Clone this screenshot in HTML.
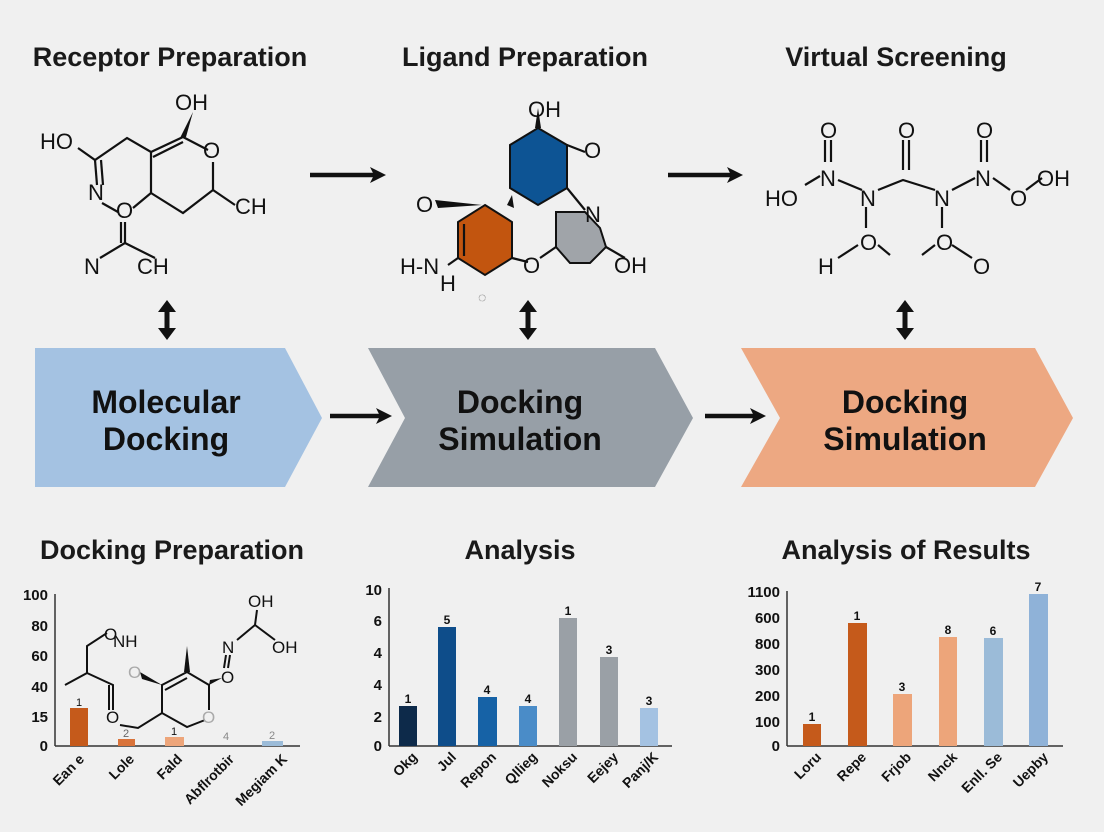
<!DOCTYPE html>
<html><head><meta charset="utf-8"><style>
html,body{margin:0;padding:0;background:#f0f0f0;}
svg{display:block;font-family:"Liberation Sans",sans-serif;}
</style></head><body>
<svg width="1104" height="832" viewBox="0 0 1104 832" xmlns="http://www.w3.org/2000/svg">
<defs>
<marker id="ah" markerWidth="16" markerHeight="16" refX="8" refY="8" orient="auto" markerUnits="userSpaceOnUse">
<path d="M0,0 L16,8 L0,16 L4,8 Z" fill="#111"/></marker>
</defs>
<rect width="1104" height="832" fill="#f0f0f0"/>
<!-- titles -->
<g font-size="27" font-weight="bold" fill="#1a1a1a" text-anchor="middle">
<text x="170" y="66">Receptor Preparation</text>
<text x="525" y="66">Ligand Preparation</text>
<text x="896" y="66">Virtual Screening</text>
<text x="172" y="559">Docking Preparation</text>
<text x="520" y="559">Analysis</text>
<text x="906" y="559">Analysis of Results</text>
</g>
<!-- chevrons -->
<polygon points="35,348 285,348 322,418 285,487 35,487" fill="#a4c2e2"/>
<polygon points="368,348 655,348 693,418 655,487 368,487 405,418" fill="#979fa7"/>
<polygon points="741,348 1035,348 1073,418 1035,487 741,487 780,418" fill="#eda882"/>
<g font-size="32" font-weight="bold" fill="#111" text-anchor="middle">
<text x="166" y="413">Molecular</text><text x="166" y="450">Docking</text>
<text x="520" y="413">Docking</text><text x="520" y="450">Simulation</text>
<text x="905" y="413">Docking</text><text x="905" y="450">Simulation</text>
</g>
<!-- arrows -->
<g stroke="#111" stroke-width="4.5" fill="none">
<line x1="310" y1="175" x2="378" y2="175" marker-end="url(#ah)"/>
<line x1="668" y1="175" x2="735" y2="175" marker-end="url(#ah)"/>
<line x1="330" y1="416" x2="384" y2="416" marker-end="url(#ah)"/>
<line x1="705" y1="416" x2="758" y2="416" marker-end="url(#ah)"/>
</g>
<g fill="#111">
<g transform="translate(167,0)"><rect x="-2.5" y="308" width="5" height="25"/><path d="M-9,312 L0,300 L9,312 Z M-9,328 L0,340 L9,328 Z"/></g>
<g transform="translate(528,0)"><rect x="-2.5" y="308" width="5" height="25"/><path d="M-9,312 L0,300 L9,312 Z M-9,328 L0,340 L9,328 Z"/></g>
<g transform="translate(905,0)"><rect x="-2.5" y="308" width="5" height="25"/><path d="M-9,312 L0,300 L9,312 Z M-9,328 L0,340 L9,328 Z"/></g>
</g>
<!-- molecule 1 -->
<g stroke="#111" stroke-width="2.2" fill="none">
<path d="M78,148 L95,160 L127,138 L151,152 L183,137 L208,150"/>
<path d="M153,157 L183,142"/>
<path d="M95,160 L97,185"/><path d="M101,160 L103,185"/>
<path d="M102,203 L118,212"/>
<path d="M151,152 L151,193 L133,208"/>
<path d="M151,193 L183,213 L213,190 L213,162"/>
<path d="M213,190 L235,205"/>
<path d="M125,222 L125,243 L100,258"/><path d="M121,222 L121,243"/>
<path d="M125,243 L155,258"/>
</g>
<path d="M180,138 L193,112 L186,137 Z" fill="#111"/>
<g font-size="22" fill="#111">
<text x="40" y="149">HO</text><text x="175" y="110">OH</text><text x="203" y="158">O</text>
<text x="235" y="214">CH</text><text x="88" y="200">N</text><text x="116" y="218">O</text>
<text x="84" y="274">N</text><text x="137" y="274">CH</text>
</g>
<!-- molecule 2 -->
<polygon points="538,128 567,145 567,188 538,205 510,188 510,145" fill="#0d5494" stroke="#111" stroke-width="2"/>
<polygon points="485,205 512,222 512,258 485,275 458,258 458,222" fill="#c2550f" stroke="#111" stroke-width="2"/>
<polygon points="556,212 585,212 600,228 606,247 590,263 570,263 556,247" fill="#a0a4a9" stroke="#111" stroke-width="2"/>
<g stroke="#111" stroke-width="2.2" fill="none">
<path d="M464,224 L464,256"/><path d="M567,145 L585,152"/>
<path d="M512,258 L528,262"/><path d="M540,258 L556,247"/><path d="M606,247 L625,258"/>
<path d="M458,258 L448,265"/><path d="M567,188 L585,210"/>
</g>
<path d="M535,128 L538,108 L541,128 Z" fill="#111"/>
<path d="M482,205 L435,200 L438,208 Z" fill="#111"/>
<path d="M507,205 L512,195 L514,208 Z" fill="#111"/>
<g font-size="22" fill="#111">
<text x="528" y="117">OH</text><text x="584" y="158">O</text><text x="416" y="212">O</text>
<text x="585" y="222">N</text><text x="400" y="274">H-N</text><text x="440" y="291">H</text>
<text x="523" y="273">O</text><text x="614" y="273">OH</text>
</g>
<text x="478" y="302" font-size="14" fill="#555">◌</text>
<!-- molecule 3 -->
<g stroke="#111" stroke-width="2.2" fill="none">
<path d="M825,140 L825,162"/><path d="M831,140 L831,162"/>
<path d="M903,140 L903,170"/><path d="M909,140 L909,170"/>
<path d="M981,140 L981,162"/><path d="M987,140 L987,162"/>
<path d="M805,185 L820,176"/><path d="M838,180 L862,190"/>
<path d="M878,190 L903,180 L935,190"/>
<path d="M952,190 L975,178"/><path d="M993,178 L1010,190"/><path d="M1026,190 L1042,178"/>
<path d="M866,207 L866,228"/><path d="M942,207 L942,228"/>
<path d="M838,258 L858,245"/><path d="M878,245 L890,255"/>
<path d="M935,245 L922,255"/><path d="M952,245 L972,258"/>
</g>
<g font-size="22" fill="#111">
<text x="820" y="138">O</text><text x="898" y="138">O</text><text x="976" y="138">O</text>
<text x="820" y="186">N</text><text x="765" y="206">HO</text><text x="860" y="206">N</text>
<text x="934" y="206">N</text><text x="975" y="186">N</text><text x="1010" y="206">O</text>
<text x="1037" y="186">OH</text><text x="818" y="274">H</text><text x="860" y="250">O</text>
<text x="936" y="250">O</text><text x="973" y="274">O</text>
</g>
<!-- chart 1 -->
<g stroke="#333" stroke-width="1.5"><line x1="55" y1="594" x2="55" y2="746"/><line x1="55" y1="746" x2="300" y2="746"/></g>
<g font-size="15" font-weight="bold" fill="#111" text-anchor="end">
<text x="48" y="600">100</text><text x="48" y="631">80</text><text x="48" y="661">60</text>
<text x="48" y="692">40</text><text x="48" y="722">15</text><text x="48" y="751">0</text>
</g>
<g stroke="#111" stroke-width="2" fill="none">
<path d="M65,685 L87,673 L87,646 L107,633"/><path d="M87,673 L113,685 L113,710"/><path d="M109,685 L109,710"/>
<path d="M120,725 L138,728 L162,713 L187,727 L205,720"/>
<path d="M162,713 L162,685 L187,672 L209,685 L209,710"/><path d="M165,690 L187,678"/>
<path d="M228,668 L230,655"/><path d="M224,668 L226,655"/><path d="M237,640 L255,625 L257,610"/><path d="M255,625 L275,640"/>
</g>
<path d="M184,672 L187,646 L190,672 Z" fill="#111"/>
<path d="M162,685 L140,672 L142,679 Z" fill="#111"/>
<path d="M209,685 L222,678 L210,680 Z" fill="#111"/>
<g font-size="17" fill="#111">
<text x="104" y="640">O</text><text x="113" y="647">NH</text><text x="248" y="607">OH</text>
<text x="222" y="653">N</text><text x="272" y="653">OH</text><text x="221" y="683">O</text>
<text x="106" y="723">O</text><text x="128" y="678" fill="#aaa">O</text><text x="202" y="723" fill="#aaa">O</text>
</g>
<rect x="70" y="708" width="18" height="38" fill="#c55a1b"/>
<rect x="118" y="739" width="17" height="7" fill="#d9733a"/>
<rect x="165" y="737" width="19" height="9" fill="#eda57a"/>
<rect x="262" y="741" width="21" height="5" fill="#9bbbd8"/>
<g font-size="11" fill="#111" text-anchor="middle">
<text x="79" y="706">1</text><text x="126" y="737" fill="#666">2</text><text x="174" y="735">1</text>
<text x="226" y="740" fill="#888">4</text><text x="272" y="739" fill="#888">2</text>
</g>
<g font-size="14" font-weight="bold" fill="#111" text-anchor="end">
<text transform="translate(85,760) rotate(-45)">Ean e</text>
<text transform="translate(135,760) rotate(-45)">Lole</text>
<text transform="translate(183,760) rotate(-45)">Fald</text>
<text transform="translate(235,760) rotate(-45)">Abflrotbir</text>
<text transform="translate(288,760) rotate(-45)">Megiam K</text>
</g>
<!-- chart 2 -->
<g stroke="#333" stroke-width="1.5"><line x1="389" y1="588" x2="389" y2="746"/><line x1="389" y1="746" x2="672" y2="746"/></g>
<g font-size="15" font-weight="bold" fill="#111" text-anchor="end">
<text x="382" y="595">10</text><text x="382" y="626">6</text><text x="382" y="658">4</text>
<text x="382" y="690">4</text><text x="382" y="722">2</text><text x="382" y="751">0</text>
</g>
<rect x="399" y="706" width="18" height="40" fill="#0d2a4a"/>
<rect x="438" y="627" width="18" height="119" fill="#0e4d8a"/>
<rect x="478" y="697" width="19" height="49" fill="#1662a6"/>
<rect x="519" y="706" width="18" height="40" fill="#4a8cc8"/>
<rect x="559" y="618" width="18" height="128" fill="#9aa0a6"/>
<rect x="600" y="657" width="18" height="89" fill="#9aa0a6"/>
<rect x="640" y="708" width="18" height="38" fill="#a4c2e2"/>
<g font-size="12" fill="#111" text-anchor="middle" font-weight="bold">
<text x="408" y="703">1</text><text x="447" y="624">5</text><text x="487" y="694">4</text>
<text x="528" y="703">4</text><text x="568" y="615">1</text><text x="609" y="654">3</text><text x="649" y="705">3</text>
</g>
<g font-size="14" font-weight="bold" fill="#111" text-anchor="end">
<text transform="translate(418,758) rotate(-45)">Okg</text>
<text transform="translate(457,758) rotate(-45)">Jul</text>
<text transform="translate(497,758) rotate(-45)">Repon</text>
<text transform="translate(538,758) rotate(-45)">Qllieg</text>
<text transform="translate(578,758) rotate(-45)">Noksu</text>
<text transform="translate(619,758) rotate(-45)">Eejey</text>
<text transform="translate(659,758) rotate(-45)">Panj/K</text>
</g>
<!-- chart 3 -->
<g stroke="#333" stroke-width="1.5"><line x1="787" y1="591" x2="787" y2="746"/><line x1="787" y1="746" x2="1063" y2="746"/></g>
<g font-size="15" font-weight="bold" fill="#111" text-anchor="end">
<text x="780" y="597">1100</text><text x="780" y="623">600</text><text x="780" y="649">800</text>
<text x="780" y="675">300</text><text x="780" y="701">200</text><text x="780" y="727">100</text><text x="780" y="751">0</text>
</g>
<rect x="803" y="724" width="18" height="22" fill="#c55a1b"/>
<rect x="848" y="623" width="19" height="123" fill="#c55a1b"/>
<rect x="893" y="694" width="19" height="52" fill="#eda57a"/>
<rect x="939" y="637" width="18" height="109" fill="#eda57a"/>
<rect x="984" y="638" width="19" height="108" fill="#9bbbd8"/>
<rect x="1029" y="594" width="19" height="152" fill="#8fb2d8"/>
<g font-size="12" fill="#111" text-anchor="middle" font-weight="bold">
<text x="812" y="721">1</text><text x="857" y="620">1</text><text x="902" y="691">3</text>
<text x="948" y="634">8</text><text x="993" y="635">6</text><text x="1038" y="591">7</text>
</g>
<g font-size="14" font-weight="bold" fill="#111" text-anchor="end">
<text transform="translate(822,758) rotate(-45)">Loru</text>
<text transform="translate(867,758) rotate(-45)">Repe</text>
<text transform="translate(912,758) rotate(-45)">Frjob</text>
<text transform="translate(958,758) rotate(-45)">Nnck</text>
<text transform="translate(1003,758) rotate(-45)">Enll. Se</text>
<text transform="translate(1049,758) rotate(-45)">Uepby</text>
</g>
</svg>
</body></html>
